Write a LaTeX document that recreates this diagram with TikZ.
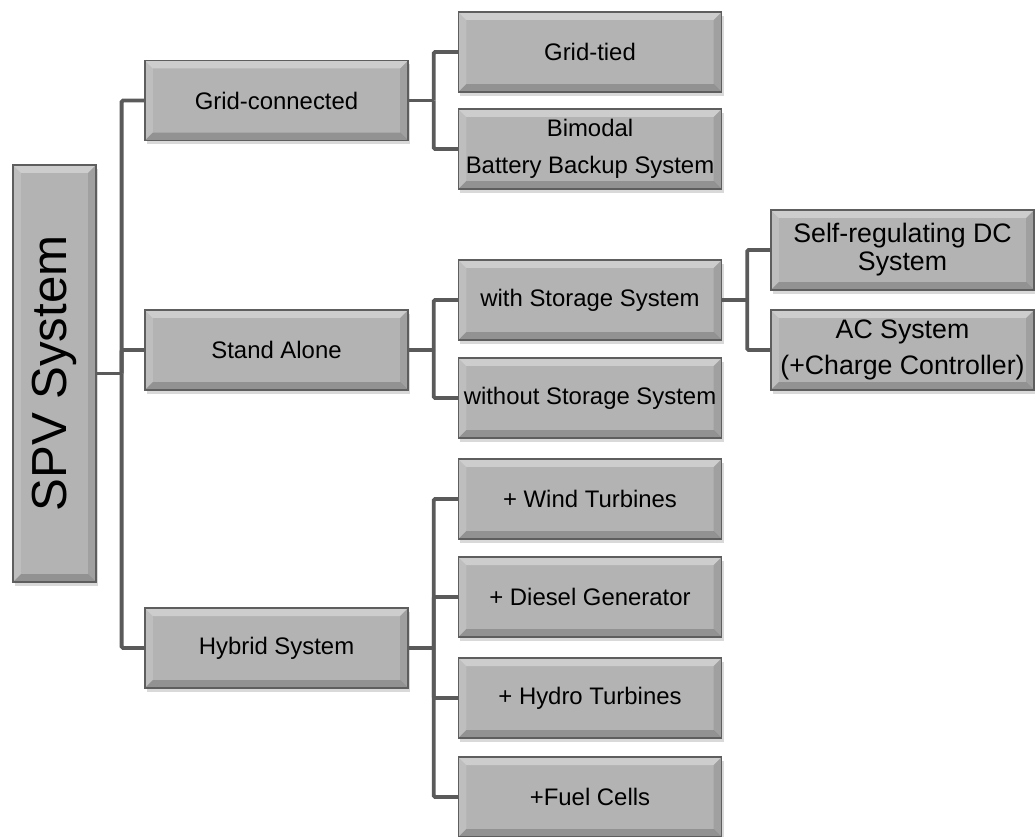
\documentclass[tikz,border=0pt]{standalone}
\usepackage{fontspec}
\setmainfont{Liberation Sans}
\usetikzlibrary{shadows}

\definecolor{boxgray}{HTML}{B3B3B3}
\definecolor{edgegray}{HTML}{5E5E5E}
\definecolor{linkgray}{HTML}{5A5A5A}

\tikzset{
	sysbox/.style={draw=edgegray, line width=1pt, fill=boxgray,
		minimum width=6.575cm, minimum height=2cm, inner sep=0pt, align=center,
		font=\fontsize{17}{26}\selectfont,
		drop shadow={shadow xshift=0.5mm, shadow yshift=-0.9mm, opacity=0.3},
		path picture={
			\fill[white, opacity=0.35] (path picture bounding box.north west) -- (path picture bounding box.north east)
				-- ([xshift=-2mm, yshift=-2mm]path picture bounding box.north east) -- ([xshift=2mm, yshift=-2mm]path picture bounding box.north west) -- cycle;
			\fill[white, opacity=0.15] (path picture bounding box.north west) -- ([xshift=2mm, yshift=-2mm]path picture bounding box.north west)
				-- ([xshift=2mm, yshift=2mm]path picture bounding box.south west) -- (path picture bounding box.south west) -- cycle;
			\fill[black, opacity=0.18] (path picture bounding box.south west) -- (path picture bounding box.south east)
				-- ([xshift=-2mm, yshift=2mm]path picture bounding box.south east) -- ([xshift=2mm, yshift=2mm]path picture bounding box.south west) -- cycle;
			\fill[black, opacity=0.1] (path picture bounding box.north east) -- ([xshift=-2mm, yshift=-2mm]path picture bounding box.north east)
				-- ([xshift=-2mm, yshift=2mm]path picture bounding box.south east) -- (path picture bounding box.south east) -- cycle;
		}},
	bigfont/.style={font=\fontsize{19}{20}\selectfont},
	link/.style={draw=linkgray, line width=2.8pt, rounded corners=1pt}
}

\begin{document}
\begin{tikzpicture}[x=0.025cm, y=-0.025cm]
			
			\useasboundingbox (0,0) rectangle (1035,837);
			
			\node[sysbox, minimum width=2.075cm, minimum height=10.425cm, font=\fontsize{35}{40}\selectfont] (spv) at (54.5,373.5) {\rotatebox{90}{SPV System}};
			
			\node[sysbox] (grid) at (276.5,100.5) {Grid-connected};
			\node[sysbox] (alone) at (276.5,350) {Stand Alone};
			\node[sysbox] (hybrid) at (276.5,648) {Hybrid System};
			
			\node[sysbox] (tied) at (590,52) {Grid-tied};
			\node[sysbox] (bimodal) at (590,149) {Bimodal\\Battery Backup System};
			
			\node[sysbox] (withstore) at (590,300) {with Storage System};
			\node[sysbox] (nostore) at (590,398) {without Storage System};
			
			\node[sysbox] (wind) at (590,499) {+ Wind Turbines};
			\node[sysbox] (diesel) at (590,597) {+ Diesel Generator};
			\node[sysbox] (hydro) at (590,698) {+ Hydro Turbines};
			\node[sysbox] (fuel) at (590,797) {+Fuel Cells};
			
			\node[sysbox, bigfont] (selfdc) at (902.5,250) {Self-regulating DC\\System};
			\node[sysbox, bigfont, font=\fontsize{19}{26}\selectfont] (acsys) at (902.5,350) {AC System\\(+Charge Controller)};
			
			\draw[link] (spv.east) -- ++(25,0) coordinate (hub0);
			\draw[link] (hub0) |- (grid.west);
			\draw[link] (hub0) |- (alone.west);
			\draw[link] (hub0) |- (hybrid.west);
			
			\draw[link] (grid.east) -- ++(25,0) coordinate (hub1);
			\draw[link] (hub1) |- (tied.west);
			\draw[link] (hub1) |- (bimodal.west);
			
			\draw[link] (alone.east) -- ++(25,0) coordinate (hub2);
			\draw[link] (hub2) |- (withstore.west);
			\draw[link] (hub2) |- (nostore.west);
			
			\draw[link] (hybrid.east) -- ++(25,0) coordinate (hub3);
			\draw[link] (hub3) |- (wind.west);
			\draw[link] (hub3) |- (diesel.west);
			\draw[link] (hub3) |- (hydro.west);
			\draw[link] (hub3) |- (fuel.west);
			
			\draw[link] (withstore.east) -- ++(25,0) coordinate (hub4);
			\draw[link] (hub4) |- (selfdc.west);
			\draw[link] (hub4) |- (acsys.west);
			
			\end{tikzpicture}
\end{document}
